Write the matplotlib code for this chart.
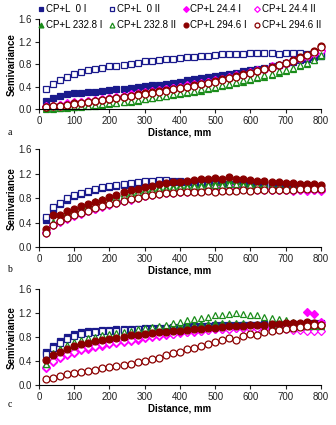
import matplotlib
matplotlib.use("Agg")
import matplotlib.pyplot as plt

plt.rcParams['font.family'] = ['Liberation Sans', 'DejaVu Sans']

# lag distances, mm
distance = [20, 40, 60, 80, 100, 120, 140, 160, 180, 200,
            220, 240, 260, 280, 300, 320, 340, 360, 380, 400,
            420, 440, 460, 480, 500, 520, 540, 560, 580, 600,
            620, 640, 660, 680, 700, 720, 740, 760, 780, 800]

labels = ["CP+L  0 I", "CP+L  0 II", "CP+L 24.4 I", "CP+L 24.4 II",
          "CP+L 232.8 I", "CP+L 232.8 II", "CP+L 294.6 I", "CP+L 294.6 II"]

# panel a
a_0_I = [0.15, 0.20, 0.24, 0.26, 0.28, 0.29, 0.30, 0.31, 0.33, 0.34,
         0.35, 0.36, 0.37, 0.39, 0.41, 0.42, 0.43, 0.45, 0.47, 0.49,
         0.51, 0.53, 0.55, 0.57, 0.59, 0.61, 0.63, 0.65, 0.67, 0.69,
         0.71, 0.73, 0.76, 0.79, 0.82, 0.84, 0.87, 0.90, 0.92, 0.95]
a_0_II = [0.35, 0.45, 0.52, 0.58, 0.63, 0.66, 0.69, 0.71, 0.74, 0.76,
          0.77, 0.78, 0.80, 0.83, 0.86, 0.86, 0.87, 0.89, 0.90, 0.91,
          0.92, 0.93, 0.94, 0.95, 0.97, 0.98, 0.98, 0.98, 0.99, 1.00,
          1.00, 1.00, 1.00, 0.99, 1.00, 1.00, 1.00, 0.99, 0.98, 0.97]
a_24_I = [0.05, 0.06, 0.08, 0.10, 0.12, 0.13, 0.15, 0.16, 0.18, 0.20,
          0.22, 0.24, 0.26, 0.28, 0.30, 0.32, 0.34, 0.36, 0.38, 0.40,
          0.42, 0.44, 0.47, 0.49, 0.52, 0.54, 0.57, 0.60, 0.63, 0.66,
          0.69, 0.72, 0.76, 0.79, 0.83, 0.87, 0.91, 0.95, 1.00, 1.05]
a_24_II = [0.04, 0.05, 0.07, 0.09, 0.11, 0.12, 0.14, 0.15, 0.17, 0.19,
           0.21, 0.23, 0.25, 0.27, 0.29, 0.31, 0.33, 0.35, 0.37, 0.39,
           0.41, 0.43, 0.45, 0.48, 0.50, 0.53, 0.56, 0.58, 0.61, 0.64,
           0.67, 0.70, 0.74, 0.77, 0.81, 0.85, 0.89, 0.93, 0.98, 1.03]
a_232_I = [0.00, 0.00, 0.01, 0.02, 0.03, 0.04, 0.05, 0.06, 0.08, 0.09,
           0.10, 0.12, 0.13, 0.15, 0.17, 0.19, 0.21, 0.23, 0.25, 0.27,
           0.29, 0.31, 0.33, 0.36, 0.38, 0.41, 0.43, 0.46, 0.49, 0.52,
           0.55, 0.58, 0.61, 0.65, 0.68, 0.72, 0.76, 0.80, 0.88, 0.95]
a_232_II = [0.01, 0.01, 0.02, 0.03, 0.04, 0.05, 0.06, 0.07, 0.09, 0.10,
            0.11, 0.13, 0.14, 0.16, 0.18, 0.20, 0.22, 0.24, 0.26, 0.28,
            0.30, 0.32, 0.35, 0.37, 0.40, 0.42, 0.45, 0.48, 0.51, 0.54,
            0.57, 0.60, 0.63, 0.67, 0.70, 0.74, 0.78, 0.83, 0.88, 0.97]
a_294_I = [0.04, 0.05, 0.06, 0.08, 0.10, 0.11, 0.13, 0.14, 0.16, 0.18,
           0.20, 0.22, 0.24, 0.26, 0.28, 0.30, 0.32, 0.34, 0.36, 0.38,
           0.40, 0.42, 0.45, 0.47, 0.50, 0.53, 0.56, 0.59, 0.62, 0.65,
           0.68, 0.72, 0.75, 0.79, 0.83, 0.87, 0.92, 0.97, 1.03, 1.12]
a_294_II = [0.03, 0.05, 0.06, 0.07, 0.09, 0.11, 0.12, 0.14, 0.16, 0.17,
            0.19, 0.21, 0.23, 0.25, 0.27, 0.29, 0.31, 0.33, 0.35, 0.37,
            0.39, 0.41, 0.44, 0.46, 0.49, 0.52, 0.55, 0.58, 0.61, 0.64,
            0.67, 0.71, 0.74, 0.78, 0.82, 0.86, 0.91, 0.96, 1.02, 1.10]

# panel b
b_0_I = [0.45, 0.62, 0.70, 0.78, 0.83, 0.87, 0.91, 0.94, 0.97, 0.99,
         1.00, 1.02, 1.04, 1.05, 1.06, 1.07, 1.08, 1.08, 1.07, 1.06,
         1.06, 1.05, 1.05, 1.04, 1.04, 1.03, 1.03, 1.02, 1.02, 1.01,
         1.01, 1.00, 1.00, 0.99, 0.99, 0.98, 0.98, 0.97, 0.97, 0.96]
b_0_II = [0.50, 0.65, 0.72, 0.80, 0.85, 0.89, 0.92, 0.95, 0.98, 1.00,
          1.02, 1.03, 1.05, 1.06, 1.08, 1.09, 1.10, 1.10, 1.09, 1.08,
          1.07, 1.07, 1.06, 1.05, 1.05, 1.04, 1.04, 1.03, 1.03, 1.02,
          1.02, 1.01, 1.01, 1.00, 1.00, 0.99, 0.99, 0.98, 0.98, 0.97]
b_24_I = [0.24, 0.36, 0.42, 0.47, 0.51, 0.55, 0.59, 0.62, 0.66, 0.69,
          0.72, 0.75, 0.78, 0.80, 0.83, 0.85, 0.87, 0.88, 0.89, 0.90,
          0.91, 0.92, 0.92, 0.93, 0.94, 0.94, 0.95, 0.95, 0.95, 0.94,
          0.94, 0.94, 0.93, 0.93, 0.93, 0.92, 0.93, 0.92, 0.93, 0.92]
b_24_II = [0.25, 0.37, 0.43, 0.48, 0.52, 0.56, 0.60, 0.63, 0.67, 0.70,
           0.73, 0.76, 0.79, 0.81, 0.84, 0.86, 0.88, 0.89, 0.90, 0.91,
           0.92, 0.93, 0.94, 0.95, 1.00, 0.96, 0.97, 1.01, 0.96, 0.95,
           0.95, 0.95, 0.94, 0.94, 0.94, 0.93, 0.94, 0.93, 0.94, 0.93]
b_232_I = [0.25, 0.42, 0.50, 0.57, 0.62, 0.67, 0.71, 0.75, 0.79, 0.82,
           0.85, 0.88, 0.91, 0.93, 0.95, 0.97, 0.98, 0.99, 1.00, 1.01,
           1.02, 1.03, 1.04, 1.05, 1.06, 1.07, 1.10, 1.08, 1.06, 1.05,
           1.04, 1.03, 1.02, 1.02, 1.01, 1.01, 1.00, 1.00, 0.99, 0.99]
b_232_II = [0.27, 0.40, 0.48, 0.54, 0.59, 0.63, 0.67, 0.71, 0.75, 0.78,
            0.82, 0.85, 0.87, 0.90, 0.92, 0.93, 0.95, 0.96, 0.97, 0.98,
            0.99, 1.00, 1.00, 1.01, 1.02, 1.02, 1.03, 1.03, 1.02, 1.02,
            1.01, 1.01, 1.00, 1.00, 0.99, 0.99, 0.98, 0.98, 0.98, 0.97]
b_294_I = [0.30, 0.52, 0.53, 0.59, 0.63, 0.67, 0.70, 0.74, 0.78, 0.82,
           0.86, 0.90, 0.93, 0.96, 0.98, 1.00, 1.03, 1.05, 1.06, 1.07,
           1.09, 1.10, 1.12, 1.11, 1.13, 1.12, 1.14, 1.12, 1.11, 1.10,
           1.09, 1.08, 1.07, 1.06, 1.05, 1.05, 1.04, 1.03, 1.03, 1.02]
b_294_II = [0.24, 0.37, 0.43, 0.48, 0.52, 0.56, 0.60, 0.64, 0.67, 0.70,
            0.73, 0.76, 0.79, 0.81, 0.83, 0.85, 0.87, 0.88, 0.89, 0.90,
            0.90, 0.91, 0.91, 0.92, 0.91, 0.92, 0.92, 0.92, 0.93, 0.92,
            0.93, 0.93, 0.93, 0.94, 0.94, 0.94, 0.95, 0.95, 0.95, 0.96]

# panel c
c_0_I = [0.55, 0.65, 0.73, 0.80, 0.85, 0.88, 0.90, 0.91, 0.92, 0.92,
         0.93, 0.93, 0.94, 0.94, 0.95, 0.95, 0.96, 0.96, 0.97, 0.97,
         0.98, 0.98, 0.99, 0.99, 1.00, 1.00, 1.00, 1.01, 1.01, 1.01,
         1.01, 1.02, 1.02, 1.02, 1.02, 1.02, 1.02, 1.03, 1.03, 1.03]
c_0_II = [0.52, 0.62, 0.70, 0.77, 0.82, 0.85, 0.87, 0.89, 0.90, 0.90,
          0.91, 0.92, 0.92, 0.93, 0.93, 0.94, 0.94, 0.95, 0.95, 0.96,
          0.96, 0.97, 0.97, 0.98, 0.98, 0.99, 0.99, 0.99, 1.00, 1.00,
          1.00, 1.00, 1.01, 1.01, 1.01, 1.01, 1.01, 1.02, 1.02, 1.02]
c_24_I = [0.28, 0.38, 0.45, 0.50, 0.54, 0.58, 0.61, 0.64, 0.66, 0.68,
          0.70, 0.72, 0.74, 0.76, 0.78, 0.80, 0.82, 0.84, 0.85, 0.87,
          0.88, 0.89, 0.90, 0.92, 0.93, 0.94, 0.94, 0.95, 0.95, 0.96,
          0.96, 0.97, 0.97, 0.98, 0.98, 0.99, 1.00, 1.22, 1.18, 1.05]
c_24_II = [0.30, 0.40, 0.47, 0.52, 0.56, 0.60, 0.63, 0.66, 0.68, 0.70,
           0.72, 0.74, 0.76, 0.78, 0.80, 0.82, 0.83, 0.85, 0.86, 0.88,
           0.89, 0.90, 0.91, 0.92, 0.93, 0.94, 0.94, 0.95, 0.95, 0.95,
           0.95, 0.94, 0.94, 0.93, 0.93, 0.92, 0.92, 0.91, 0.90, 0.90]
c_232_I = [0.35, 0.52, 0.60, 0.66, 0.70, 0.74, 0.77, 0.79, 0.81, 0.83,
           0.85, 0.87, 0.89, 0.90, 0.92, 0.93, 0.95, 0.96, 0.97, 0.99,
           1.00, 1.01, 1.02, 1.02, 1.03, 1.03, 1.03, 1.03, 1.03, 1.02,
           1.02, 1.02, 1.01, 1.01, 1.00, 1.00, 0.99, 0.99, 0.98, 0.98]
c_232_II = [0.36, 0.53, 0.61, 0.67, 0.72, 0.76, 0.79, 0.81, 0.83, 0.85,
            0.87, 0.89, 0.91, 0.93, 0.95, 0.97, 0.99, 1.01, 1.03, 1.05,
            1.08, 1.10, 1.12, 1.14, 1.16, 1.17, 1.18, 1.20, 1.19, 1.17,
            1.16, 1.14, 1.12, 1.10, 1.08, 1.06, 1.04, 1.02, 1.01, 1.00]
c_294_I = [0.42, 0.50, 0.56, 0.61, 0.65, 0.68, 0.71, 0.73, 0.75, 0.77,
           0.79, 0.81, 0.83, 0.84, 0.86, 0.87, 0.88, 0.89, 0.90, 0.91,
           0.92, 0.93, 0.94, 0.95, 0.96, 0.97, 0.98, 0.98, 0.99, 1.00,
           1.00, 1.01, 1.02, 1.02, 1.03, 1.04, 1.04, 1.05, 1.03, 1.00]
c_294_II = [0.10, 0.12, 0.15, 0.18, 0.20, 0.22, 0.24, 0.26, 0.28, 0.30,
            0.32, 0.34, 0.36, 0.38, 0.41, 0.44, 0.46, 0.50, 0.53, 0.56,
            0.60, 0.62, 0.66, 0.68, 0.72, 0.75, 0.78, 0.76, 0.82, 0.85,
            0.84, 0.88, 0.90, 0.92, 0.93, 0.95, 0.97, 0.98, 1.00, 1.00]

panels = [
    ("a", [a_0_I, a_0_II, a_24_I, a_24_II, a_232_I, a_232_II, a_294_I, a_294_II]),
    ("b", [b_0_I, b_0_II, b_24_I, b_24_II, b_232_I, b_232_II, b_294_I, b_294_II]),
    ("c", [c_0_I, c_0_II, c_24_I, c_24_II, c_232_I, c_232_II, c_294_I, c_294_II]),
]

colors = ["#1a1a8c", "#1a1a8c", "#ff00ff", "#ff00ff",
          "#1a8c1a", "#1a8c1a", "#8b0000", "#8b0000"]
markers = ["s", "s", "D", "D", "^", "^", "o", "o"]
filled = [True, False, True, False, True, False, True, False]

# axes boxes in figure fractions (left, bottom, width, height)
boxes = [(0.116, 0.7435, 0.839, 0.2108),
         (0.116, 0.4181, 0.839, 0.2306),
         (0.116, 0.0934, 0.839, 0.2266)]
letter_y = [0.682, 0.361, 0.043]

fig = plt.figure(figsize=(3.36, 4.25), dpi=100)

for (letter, series), box, ly in zip(panels, boxes, letter_y):
    ax = fig.add_axes(box)
    handles = []
    for vals, col, mk, fl, lab in zip(series, colors, markers, filled, labels):
        ms = 4.2 if mk == "D" else 5.0
        h, = ax.plot(distance, vals, linestyle="none", marker=mk, markersize=ms,
                     markerfacecolor=col if fl else "white", markeredgecolor=col,
                     markeredgewidth=0.9, clip_on=False, label=lab)
        handles.append(h)
    ax.set_xlim(0, 800)
    ax.set_ylim(0, 1.6)
    ax.set_xticks(range(0, 801, 100))
    ax.set_yticks([0.0, 0.4, 0.8, 1.2, 1.6])
    ax.set_yticklabels(["0.0", "0.4", "0.8", "1.2", "1.6"])
    ax.tick_params(labelsize=7, length=3, width=0.8, pad=2, colors="#222222")
    for s in ["top", "right"]:
        ax.spines[s].set_visible(False)
    for s in ["left", "bottom"]:
        ax.spines[s].set_linewidth(0.8)
    ax.set_xlabel("Distance, mm", fontsize=7, fontweight="bold", labelpad=1)
    ax.set_ylabel("Semivariance", fontsize=7, fontweight="bold")
    ax.yaxis.set_label_coords(-0.08, 0.5)
    fig.text(0.022, ly, letter, fontsize=7, family="Liberation Serif")
    if letter == "a":
        # row-wise legend order (matplotlib fills columns first)
        order = [0, 4, 1, 5, 2, 6, 3, 7]
        leg_h = [handles[i] for i in order]
        leg_l = [labels[i] for i in order]
        ax.legend(leg_h, leg_l, loc="upper left",
                  bbox_to_anchor=(0.115, 0.99),
                  bbox_transform=fig.transFigure, ncol=4, fontsize=7,
                  frameon=False, handlelength=0.5, handletextpad=0.25,
                  columnspacing=0.75, labelspacing=0.6, borderpad=0,
                  borderaxespad=0, markerscale=0.7)

fig.savefig("out.png", dpi=100)
